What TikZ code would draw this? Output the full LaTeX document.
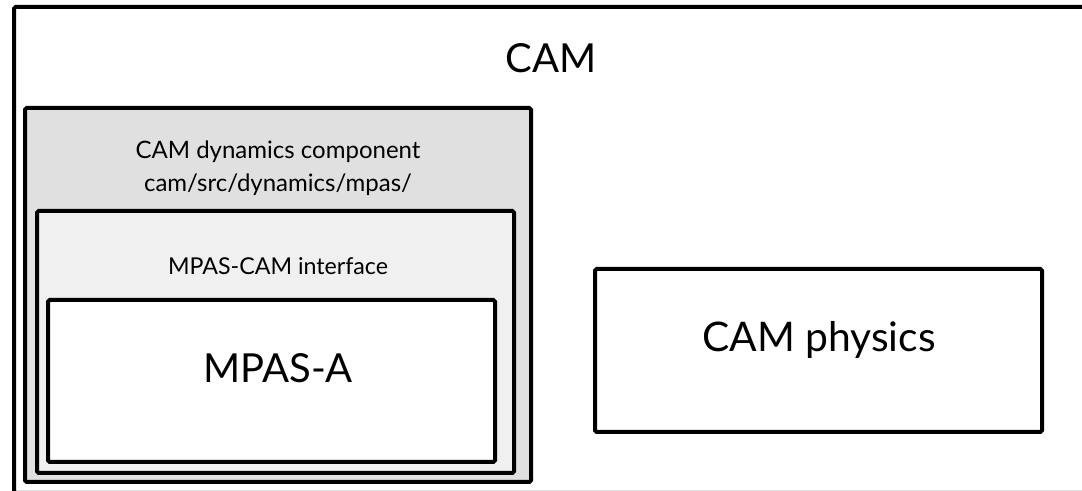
\documentclass[tikz,border=0pt]{standalone}
\usepackage{fontspec}
\setmainfont{Lato}
\usetikzlibrary{positioning}

\definecolor{dyngray}{gray}{0.88}
\definecolor{ifgray}{gray}{0.94}

\tikzset{
  box/.style={draw=black, line width=2pt, rounded corners=0.8pt},
  lbl/.style={anchor=base, inner sep=0pt},
}

\begin{document}
\begin{tikzpicture}[x=0.5pt, y=-0.5pt]
\useasboundingbox (0,0) rectangle (1082,491);
\clip (0,0) rectangle (1082,491);

% outer CAM box
\draw[box, fill=white] (14,7) rectangle (1100,493);
\node[lbl, font=\fontsize{20}{24}\selectfont] (cam) at (551,73) {CAM};

% dynamics component
\draw[box, fill=dyngray] (25,108) rectangle (531,482);
\node[lbl, font=\fontsize{12}{14}\selectfont] (dyn) at (278,159) {CAM dynamics component};
\node[lbl, font=\fontsize{12}{14}\selectfont] (dynpath) at (278,192) {cam/src/dynamics/mpas/};

% interface
\draw[box, fill=ifgray] (37,211) rectangle (514,473);
\node[lbl, font=\fontsize{11.6}{14}\selectfont] (iface) at (278,275) {MPAS-CAM interface};

% MPAS-A
\draw[box, fill=white] (48,300) rectangle (495,462);
\node[lbl, font=\fontsize{20}{24}\selectfont] (mpas) at (278,383) {MPAS-A};

% physics
\draw[box, fill=white] (595,269) rectangle (1042,432);
\node[lbl, font=\fontsize{20.4}{24}\selectfont] (phys) at (819,352) {CAM physics};
\end{tikzpicture}
\end{document}
